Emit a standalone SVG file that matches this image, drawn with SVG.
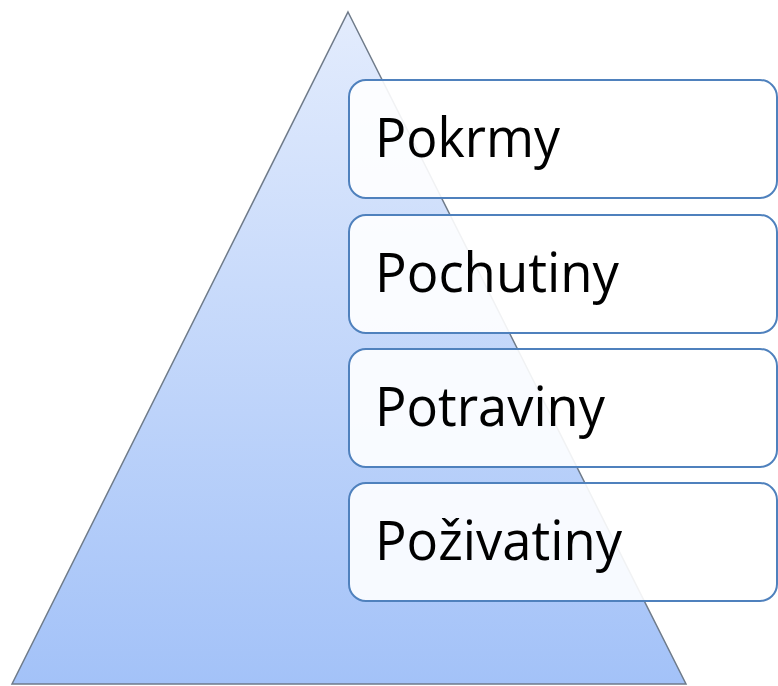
<svg xmlns="http://www.w3.org/2000/svg" width="778" height="686" viewBox="0 0 778 686">
<defs>
<linearGradient id="tri" x1="0" y1="0" x2="0" y2="1">
<stop offset="0" stop-color="#e3ecfd"/>
<stop offset="1" stop-color="#a3c2f8"/>
</linearGradient>
<style>
.box{fill:#ffffff;fill-opacity:0.9;stroke:#4f81bd;stroke-width:2}
.lbl{font-family:"Open Sans","Noto Sans","Liberation Sans",sans-serif;font-size:54px;fill:#000}
</style>
</defs>
<g id="pyramid">
<polygon points="348,12 686,684 12,684" fill="url(#tri)" stroke="#6f7b8a" stroke-width="1.5"/>
</g>
<g id="connectors"></g>
<g id="n1"><rect class="box" x="349" y="80" width="428" height="118" rx="17"/><text class="lbl" x="375" y="157" textLength="185" lengthAdjust="spacingAndGlyphs">Pokrmy</text></g>
<g id="n2"><rect class="box" x="349" y="215" width="428" height="118" rx="17"/><text class="lbl" x="375" y="292" textLength="244" lengthAdjust="spacingAndGlyphs">Pochutiny</text></g>
<g id="n3"><rect class="box" x="349" y="349" width="428" height="118" rx="17"/><text class="lbl" x="375" y="426" textLength="230" lengthAdjust="spacingAndGlyphs">Potraviny</text></g>
<g id="n4"><rect class="box" x="349" y="483" width="428" height="118" rx="17"/><text class="lbl" x="375" y="560" textLength="247" lengthAdjust="spacingAndGlyphs">Poživatiny</text></g>
</svg>
